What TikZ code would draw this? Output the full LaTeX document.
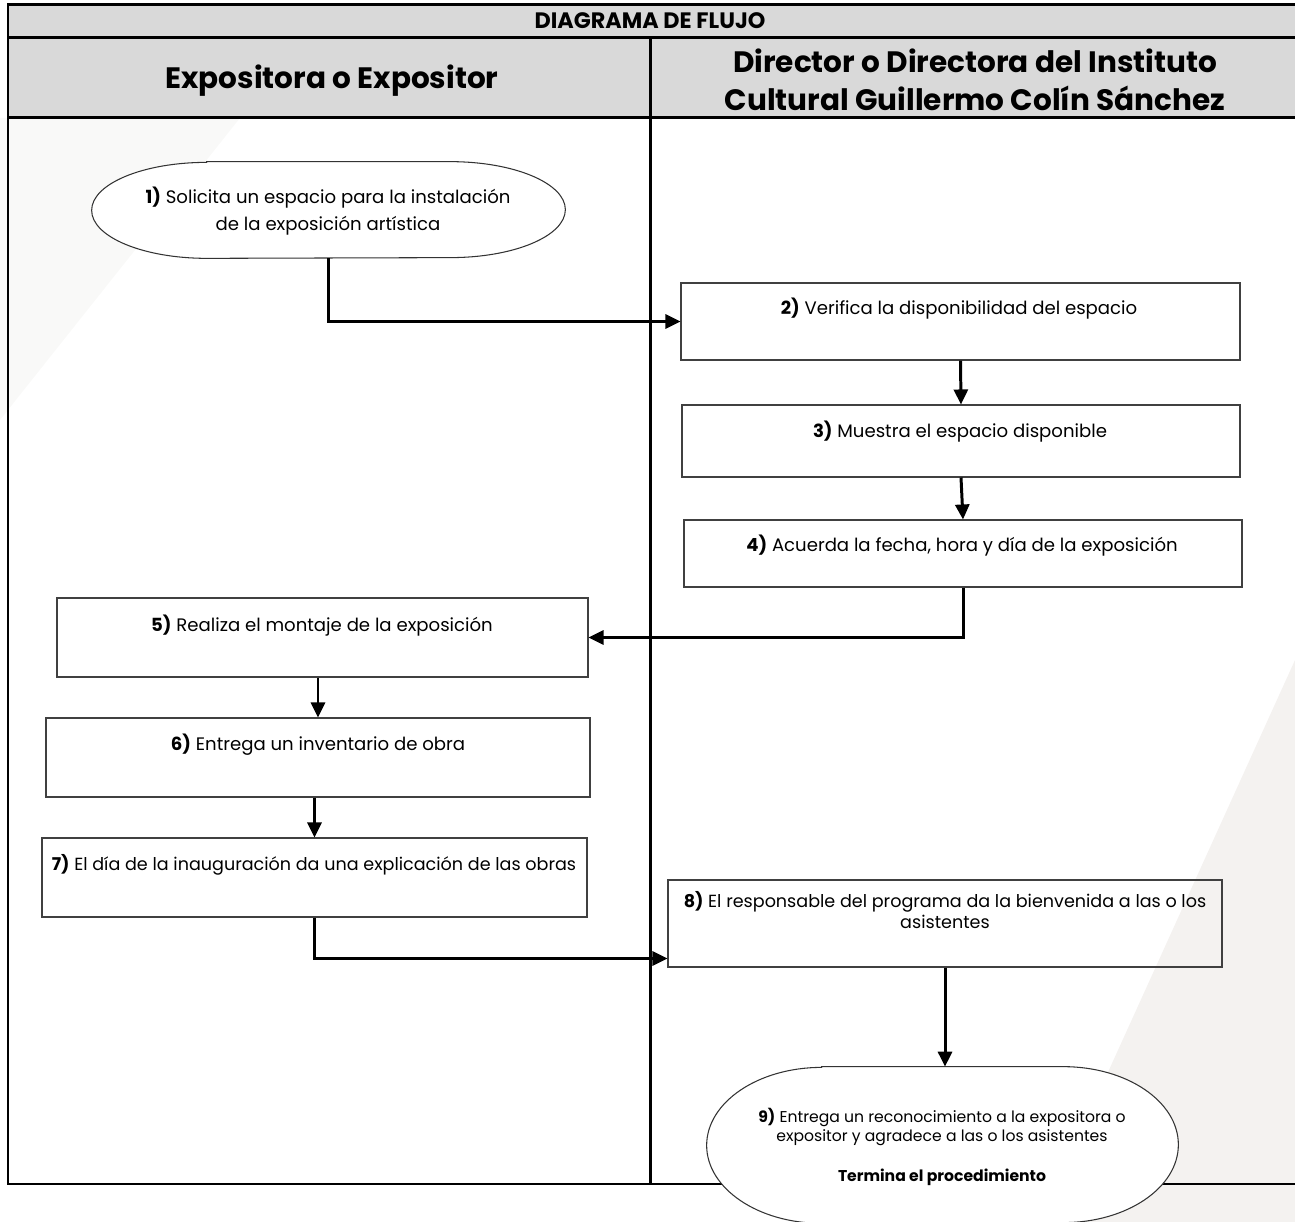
\documentclass[tikz,border=0pt]{standalone}
\usepackage{fontspec}
\setmainfont{Poppins}
\usetikzlibrary{arrows.meta}

\definecolor{headgray}{HTML}{D9D9D9}
\definecolor{markgray}{HTML}{F4F2F0}

\tikzset{
	lane/.style={line width=1.7pt},
	box/.style 2 args={draw=black!75, line width=0.6pt, minimum width=#1*0.02cm, minimum height=#2*0.02cm, inner sep=0pt},
	shape/.style 2 args={minimum width=#1*0.02cm, minimum height=#2*0.02cm, inner sep=0pt},
	txt/.style={align=center, inner sep=0pt, font=\fontsize{10.3}{13}\selectfont},
	flow/.style={line width=1.7pt, -{Triangle[length=3mm, width=2.8mm]}},
}

\newcommand{\terminal}[3]{%
	\filldraw[fill=white, draw=black!80, line width=0.6pt] ([xshift=#2]#1.north west) -- ([xshift=-#2]#1.north east)
		arc[start angle=90, end angle=-90, x radius=#2, y radius=#3]
		-- ([xshift=#2]#1.south west)
		arc[start angle=270, end angle=90, x radius=#2, y radius=#3] -- cycle;}

\begin{document}
\begin{tikzpicture}[x=0.02cm, y=-0.02cm]
				\useasboundingbox (0,0) rectangle (1295,1222);

				\fill[markgray] (1295,660) -- (1295,1222) -- (1040,1222) -- cycle;
				\fill[markgray!50] (0,118) -- (240,118) -- (0,420) -- cycle;

				\fill[headgray] (8,5) rectangle (1295,118);
				\draw[lane] (1295,5) -- (8,5) -- (8,1184) -- (1295,1184);
				\draw[lane] (8,38) -- (1295,38);
				\draw[lane] (8,118) -- (1295,118);
				\draw[lane] (650,38) -- (650,1184);

				\node[font=\fontsize{12.7}{15}\selectfont\bfseries] (title) at (650,21) {DIAGRAMA DE FLUJO};
				\node[font=\fontsize{16.8}{21.5}\selectfont\bfseries] (laneA) at (332,81) {Expositora o Expositor};
				\node[font=\fontsize{16.8}{21.5}\selectfont\bfseries, align=center] (laneB) at (975,80) {Director o Directora del Instituto\\Cultural Guillermo Colín Sánchez};

				\node[shape={473}{96}] (e1) at (328.5,210) {};
				\node[box={559}{77}] (b2) at (960.5,321.5) {};
				\node[box={558}{72}] (b3) at (961,441) {};
				\node[box={558}{67}] (b4) at (963,553.5) {};
				\node[box={531}{79}] (b5) at (322.5,637.5) {};
				\node[box={544}{79}] (b6) at (318,757.5) {};
				\node[box={545}{79}] (b7) at (314.5,877.5) {};
				\node[box={554}{87}] (b8) at (945,923.5) {};
				\node[shape={471}{156}] (e9) at (942.5,1145) {};

				\terminal{e1}{2.3cm}{0.96cm}
				\terminal{e9}{2.3cm}{1.56cm}

				\node[txt, font=\fontsize{10.3}{15.3}\selectfont] (t1) at (328,211) {\textbf{1)} Solicita un espacio para la instalación\\de la exposición artística};
				\node[txt] (t2) at (959,309) {\textbf{2)} Verifica la disponibilidad del espacio};
				\node[txt] (t3) at (960,432) {\textbf{3)} Muestra el espacio disponible};
				\node[txt] (t4) at (962,546) {\textbf{4)} Acuerda la fecha, hora y día de la exposición};
				\node[txt] (t5) at (322,626) {\textbf{5)} Realiza el montaje de la exposición};
				\node[txt] (t6) at (318,745) {\textbf{6)} Entrega un inventario de obra};
				\node[txt, font=\fontsize{10}{12}\selectfont] (t7) at (314,865) {\textbf{7)} El día de la inauguración da una explicación de las obras};
				\node[txt, font=\fontsize{10}{12}\selectfont] (t8) at (945,910) {\textbf{8)} El responsable del programa da la bienvenida a las o los\\asistentes};
				\node[txt, font=\fontsize{8.9}{11.3}\selectfont] (t9) at (942,1127) {\textbf{9)} Entrega un reconocimiento a la expositora o\\expositor y agradece a las o los asistentes};
				\node[txt, font=\fontsize{8.9}{11.3}\selectfont\bfseries] (t9b) at (942,1177) {Termina el procedimiento};

				\draw[flow] (e1.south) |- (b2.west);
				\draw[flow] (b2.south) -- (b3.north);
				\draw[flow] (b3.south) -- (b4.north);
				\draw[flow] (b4.south) |- (b5.east);
				\draw[flow] (b6.north |- b5.south) -- (b6.north);
				\draw[flow] (b7.north |- b6.south) -- (b7.north);
				\draw[flow] (b7.south) |- ([yshift=-0.7cm]b8.west);
				\draw[flow] (b8.south) -- (b8.south |- e9.north);
			\end{tikzpicture}
\end{document}
